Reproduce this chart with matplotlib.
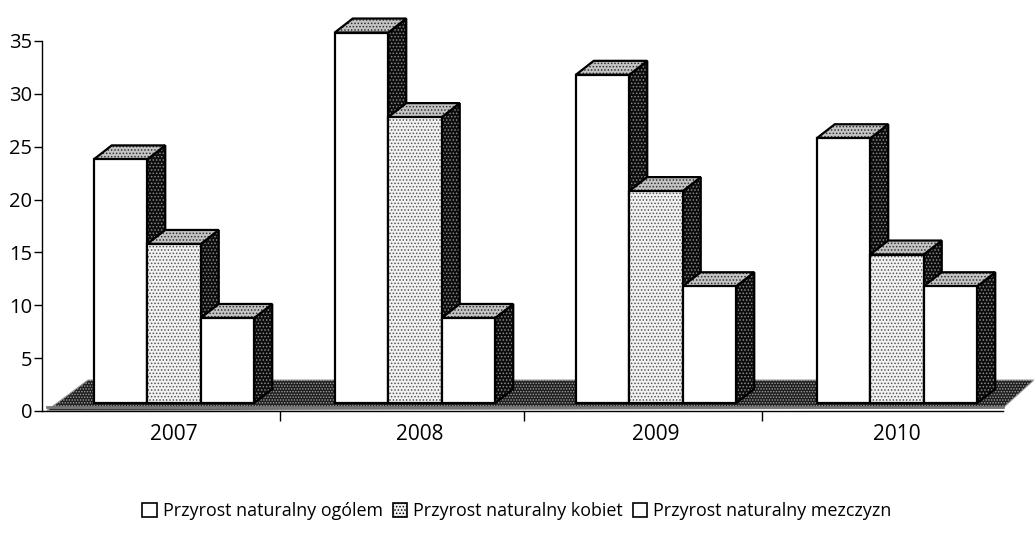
import matplotlib
matplotlib.use("Agg")
import matplotlib.pyplot as plt
from matplotlib.patches import Polygon, Patch

years = ["2007", "2008", "2009", "2010"]
series_names = ["Przyrost naturalny ogólem", "Przyrost naturalny kobiet", "Przyrost naturalny mezczyzn"]
total = [24, 36, 32, 26]
women = [16, 28, 21, 15]
men = [9, 9, 12, 12]
y_ticks = [0, 5, 10, 15, 20, 25, 30, 35]

plt.rcParams["font.family"] = ["Open Sans", "DejaVu Sans"]
plt.rcParams["hatch.linewidth"] = 0.7

W, H = 1034, 547
fig = plt.figure(figsize=(W / 100, H / 100), dpi=100)
left, right, bottom, top = 42, 1003, 411, 41
ax = fig.add_axes([left / W, 1 - bottom / H, (right - left) / W, (bottom - top) / H])

# category 0 sits 132 px from the axis, one category spans 241 px
xu = 241.0
yu = (bottom - top) / 35.0
xlim = (-132 / xu, (right - left - 132) / xu)
ax.set_xlim(*xlim)
ax.set_ylim(0, 35)

dx, dy = 18 / xu, 14 / yu      # depth of the 3-D look
bar_w = 53.5 / xu
base = 8 / yu                  # front base above the axis
top_off = 0.2                  # front-plane offset of the values


def face(pts, fc, hc, hatch, z):
    ax.add_patch(Polygon(pts, closed=True, facecolor=fc, edgecolor=hc, hatch=hatch,
                         linewidth=0, zorder=z, clip_on=False))
    ax.add_patch(Polygon(pts, closed=True, fill=False, edgecolor="black",
                         linewidth=1.6, zorder=z + 0.1, clip_on=False, joinstyle="miter"))


# floor
x0, x1 = xlim
floor = [(x0 + 5 / xu, 0.05), (x0 + 46 / xu, 31 / yu), (x1 + 31 / xu, 31 / yu), (x1, 3 / yu)]
ax.add_patch(Polygon(floor, closed=True, facecolor="#1e1e1e", edgecolor="#a0a0a0", hatch="......",
                     linewidth=0.8, zorder=1, clip_on=False))
ax.plot([x0 + 5 / xu, x1], [4 / yu, 4 / yu], color="#777777", lw=2, zorder=1.5, clip_on=False)

z = 2.0
for i in range(len(years)):
    for j, vals in enumerate([total, women, men]):
        v = vals[i] - top_off
        xl = i + (j - 1.5) * bar_w
        xr = xl + bar_w
        # side face
        face([(xr, base), (xr + dx, base + dy), (xr + dx, v + dy), (xr, v)],
             "#0c0c0c", "#8a8a8a", ".....", z)
        # top face
        face([(xl, v), (xl + dx, v + dy), (xr + dx, v + dy), (xr, v)],
             "#c4c4c4", "#303030", ".....", z + 0.2)
        # front face
        is_mid = j == 1
        ax.bar(xl, v - base, width=bar_w, bottom=base, align="edge",
               color="#f2f2f2" if is_mid else "white",
               edgecolor="#555555" if is_mid else "white",
               hatch="....." if is_mid else None, linewidth=0,
               zorder=z + 0.4, clip_on=False)
        ax.bar(xl, v - base, width=bar_w, bottom=base, align="edge", fill=False,
               edgecolor="black", linewidth=1.6, zorder=z + 0.5, clip_on=False)
        z += 1

for s in ["top", "right"]:
    ax.spines[s].set_visible(False)
for s in ["left", "bottom"]:
    ax.spines[s].set_linewidth(1.0)
    ax.spines[s].set_zorder(200)

ax.set_yticks(y_ticks)
ax.tick_params(axis="y", labelsize=14.5, length=6, width=1, pad=1, direction="out")
ax.set_xticks([k + 0.44 + (0.012 if k == 1 else 0) for k in range(len(years))])
ax.set_xticklabels([])
ax.tick_params(axis="x", length=7, width=1)
ax.set_xlim(*xlim)

for i, y in enumerate(years):
    ax.text(i + (5 if i == 1 else 0) / xu, -23 / yu, y, ha="center", va="center", fontsize=15, clip_on=False)

handles = [Patch(facecolor="white", edgecolor="black", linewidth=1.2),
           Patch(facecolor="#f2f2f2", edgecolor="black", hatch=".....", linewidth=1.2),
           Patch(facecolor="white", edgecolor="black", linewidth=1.2)]
fig.legend(handles, series_names, ncol=3, frameon=False, loc="center", bbox_to_anchor=(517 / W, 1 - 511 / H),
           fontsize=12.9, handlelength=0.8, handleheight=0.8, handletextpad=0.35, columnspacing=0.55,
           borderpad=0)

fig.savefig("out.png", dpi=100, facecolor="white")
